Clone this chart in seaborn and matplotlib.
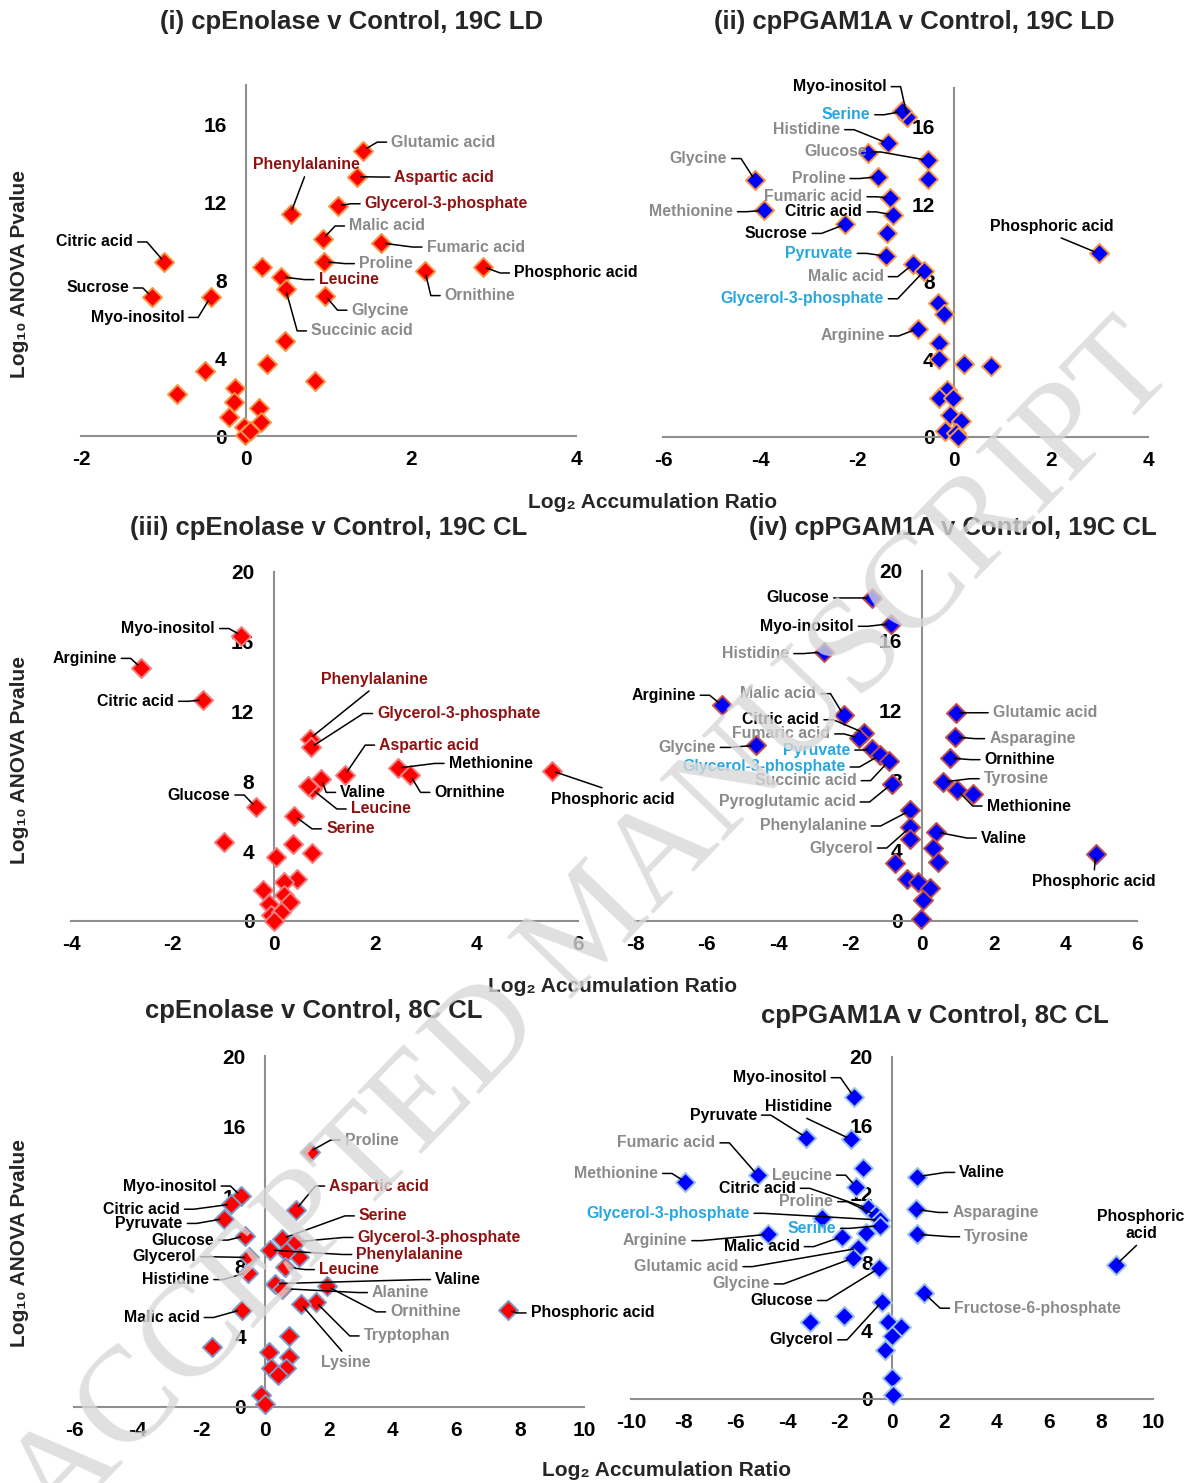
import matplotlib
matplotlib.use("Agg")
import matplotlib.pyplot as plt
import seaborn as sns
import pandas as pd

sns.set_theme(style="white")
plt.rcParams["font.family"] = ["Liberation Sans", "DejaVu Sans"]
plt.rcParams["font.weight"] = "bold"
plt.rcParams["axes.unicode_minus"] = False

# ---------------- data ----------------
# (i) cpEnolase v Control, 19C LD
names_1 = ["Glutamic acid", "Aspartic acid", "Glycerol-3-phosphate", "Phenylalanine",
           "Malic acid", "Fumaric acid", "Proline", "Ornithine", "Phosphoric acid",
           "Leucine", "", "Succinic acid", "Glycine", "Citric acid", "Sucrose",
           "Myo-inositol", "", "", "", "", "", "", "", "", "", "", "", "", ""]
ratio_1 = [1.42, 1.34, 1.11, 0.54, 0.93, 1.64, 0.95, 2.17, 2.87, 0.43, 0.19, 0.48, 0.96,
           -0.99, -1.14, -0.43, 0.47, 0.25, -0.50, 0.84, -0.84, -0.13, -0.15, -0.21,
           0.16, 0.18, -0.03, -0.01, 0.05]
pval_1 = [14.64, 13.3, 11.8, 11.4, 10.1, 9.9, 8.94, 8.46, 8.69, 8.16, 8.67, 7.54, 7.2,
          8.92, 7.13, 7.13, 4.86, 3.69, 3.31, 2.82, 2.17, 2.47, 1.72, 0.99, 1.42, 0.72,
          0.48, 0.05, 0.25]

# (ii) cpPGAM1A v Control, 19C LD
names_2 = ["Myo-inositol", "Serine", "Histidine", "Glucose", "", "Glycine", "Proline", "",
           "Fumaric acid", "Methionine", "Citric acid", "Sucrose", "", "Pyruvate",
           "Malic acid", "Glycerol-3-phosphate", "Phosphoric acid", "", "", "Arginine",
           "", "", "", "", "", "", "", "", "", "", "", ""]
ratio_2 = [-0.96, -1.07, -1.37, -0.54, -1.78, -4.10, -1.57, -0.54, -1.32, -3.92, -1.26,
           -2.24, -1.38, -1.41, -0.84, -0.62, 2.98, -0.33, -0.20, -0.75, -0.30, -0.30,
           0.21, 0.77, -0.14, -0.30, -0.03, -0.08, 0.14, -0.19, 0.04, 0.08]
pval_2 = [16.48, 16.79, 15.15, 14.27, 14.67, 13.23, 13.42, 13.33, 12.34, 11.69, 11.45,
          10.97, 10.53, 9.33, 8.92, 8.55, 9.47, 6.92, 6.32, 5.59, 4.85, 4.02, 3.76, 3.68,
          2.43, 2.0, 2.0, 1.15, 0.8, 0.32, 0.2, 0.0]

# (iii) cpEnolase v Control, 19C CL
names_3 = ["Myo-inositol", "Arginine", "Citric acid", "Phenylalanine", "Glycerol-3-phosphate",
           "Aspartic acid", "Methionine", "Ornithine", "Phosphoric acid", "Valine",
           "Leucine", "Glucose", "Serine", "", "", "", "", "", "", "", "", "", "", "",
           "", "", ""]
ratio_3 = [-0.64, -2.62, -1.39, 0.71, 0.73, 1.40, 2.44, 2.69, 5.48, 0.94, 0.75, -0.35,
           0.40, -0.98, 0.37, 0.75, 0.05, 0.45, 0.21, -0.22, 0.21, -0.10, 0.32, -0.06,
           0.15, 0.0, 0.68]
pval_3 = [16.36, 14.51, 12.67, 10.45, 9.95, 8.36, 8.76, 8.36, 8.61, 8.13, 7.56, 6.51,
          6.04, 4.51, 4.42, 3.9, 3.66, 2.42, 2.23, 1.75, 1.47, 0.99, 1.09, 0.32, 0.51,
          0.0, 7.75]

# (iv) cpPGAM1A v Control, 19C CL
names_4 = ["Glucose", "Myo-inositol", "Histidine", "Arginine", "Malic acid", "Citric acid",
           "Fumaric acid", "Glycine", "Pyruvate", "Glycerol-3-phosphate", "Succinic acid",
           "Pyroglutamic acid", "Phenylalanine", "Glycerol", "", "", "", "", "", "", "",
           "Glutamic acid", "Asparagine", "Ornithine", "Tyrosine", "Methionine", "",
           "Valine", "", "", "Phosphoric acid"]
ratio_4 = [-1.39, -0.86, -2.74, -5.57, -2.18, -1.61, -1.74, -4.63, -1.39, -1.17, -0.93,
           -0.83, -0.32, -0.32, -0.32, -0.76, -0.41, -0.12, 0.23, 0.03, -0.02, 0.94, 0.92,
           0.79, 0.59, 0.99, 1.43, 0.39, 0.31, 0.44, 4.85]
pval_4 = [18.46, 16.99, 15.37, 12.32, 11.75, 10.75, 10.45, 10.04, 9.85, 9.47, 9.12, 7.85,
          6.32, 5.37, 4.70, 3.31, 2.38, 2.23, 1.89, 1.18, 0.1, 11.9, 10.51, 9.31, 7.94,
          7.47, 7.28, 5.09, 4.17, 3.37, 3.85]

# cpEnolase v Control, 8C CL
names_5 = ["Proline", "Myo-inositol", "Citric acid", "Pyruvate", "Aspartic acid", "Glucose",
           "Glycerol", "Histidine", "Malic acid", "", "Serine", "Glycerol-3-phosphate",
           "Phenylalanine", "", "", "Leucine", "Valine", "Alanine", "Ornithine",
           "Tryptophan", "Lysine", "Phosphoric acid", "", "", "", "", "", "", "", ""]
ratio_5 = [1.39, -0.77, -1.06, -1.28, 0.95, -0.64, -0.51, -0.55, -0.74, -1.66, 0.54, 0.95,
           0.15, 1.05, 0.66, 0.63, 0.32, 0.51, 1.94, 1.58, 1.11, 7.60, 0.73, 0.13, 0.73,
           0.18, 0.66, 0.41, -0.14, 0.0]
pval_5 = [14.54, 12.03, 11.56, 10.74, 11.22, 9.75, 8.52, 7.66, 5.55, 3.42, 9.60, 9.41,
          8.94, 8.56, 8.84, 7.98, 7.03, 6.75, 6.88, 5.99, 5.89, 5.51, 4.03, 3.14, 2.85,
          2.24, 2.24, 1.81, 0.67, 0.15]

# cpPGAM1A v Control, 8C CL
names_6 = ["Myo-inositol", "Pyruvate", "Histidine", "Fumaric acid", "Methionine", "",
           "Leucine", "Citric acid", "Proline", "Glycerol-3-phosphate", "", "Serine",
           "Arginine", "Malic acid", "", "Glutamic acid", "Glycine", "Glucose", "Glycerol",
           "", "", "", "", "", "", "", "", "Valine", "Asparagine", "Tyrosine",
           "Fructose-6-phosphate", "Phosphoric acid"]
ratio_6 = [-1.46, -3.28, -1.58, -5.15, -7.92, -1.12, -1.38, -0.92, -0.62, -0.46, -2.69,
           -0.46, -4.77, -1.92, -1.0, -1.31, -1.51, -0.49, -0.38, -3.15, -1.85, -0.15,
           0.35, 0.0, -0.26, 0.0, 0.03, 0.97, 0.91, 0.95, 1.23, 8.58]
pval_6 = [17.67, 15.29, 15.19, 13.09, 12.7, 13.52, 12.41, 11.15, 10.76, 10.47, 10.56,
          10.14, 9.63, 9.49, 9.69, 8.81, 8.23, 7.65, 5.70, 4.53, 4.86, 4.53, 4.2, 3.66,
          2.88, 1.23, 0.25, 13.0, 11.09, 9.63, 6.19, 7.84]

# label colour groups (everything else is black)
darkred_1 = ["Phenylalanine", "Aspartic acid", "Glycerol-3-phosphate", "Leucine"]
gray_1 = ["Glutamic acid", "Malic acid", "Fumaric acid", "Proline", "Ornithine",
          "Glycine", "Succinic acid"]
blue_2 = ["Serine", "Pyruvate", "Glycerol-3-phosphate"]
gray_2 = ["Histidine", "Glucose", "Glycine", "Proline", "Fumaric acid", "Methionine",
          "Malic acid", "Arginine"]
darkred_3 = ["Phenylalanine", "Glycerol-3-phosphate", "Aspartic acid", "Leucine", "Serine"]
blue_4 = ["Pyruvate", "Glycerol-3-phosphate"]
gray_4 = ["Histidine", "Malic acid", "Fumaric acid", "Glycine", "Succinic acid",
          "Pyroglutamic acid", "Phenylalanine", "Glycerol", "Glutamic acid", "Asparagine",
          "Tyrosine"]
darkred_5 = ["Aspartic acid", "Serine", "Glycerol-3-phosphate", "Phenylalanine", "Leucine"]
gray_5 = ["Proline", "Alanine", "Ornithine", "Tryptophan", "Lysine"]
blue_6 = ["Glycerol-3-phosphate", "Serine"]
gray_6 = ["Fumaric acid", "Methionine", "Leucine", "Proline", "Arginine", "Glutamic acid",
          "Glycine", "Asparagine", "Tyrosine", "Fructose-6-phosphate"]

# ---------------- label placement (data coords, side of the leader) ----------------
lab_1 = {"Glutamic acid": (1.76, 15.07, "R"), "Phenylalanine": (0.73, 13.91, "B"),
         "Aspartic acid": (1.80, 13.28, "R"), "Glycerol-3-phosphate": (1.44, 11.91, "R"),
         "Malic acid": (1.25, 10.77, "R"), "Fumaric acid": (2.19, 9.69, "R"),
         "Proline": (1.37, 8.84, "R"), "Leucine": (0.88, 8.02, "R"),
         "Phosphoric acid": (3.25, 8.36, "R"), "Ornithine": (2.41, 7.20, "R"),
         "Glycine": (1.28, 6.45, "R"), "Succinic acid": (0.79, 5.39, "R"),
         "Citric acid": (-1.37, 9.95, "L"), "Sucrose": (-1.42, 7.59, "L"),
         "Myo-inositol": (-0.75, 6.08, "L")}
lab_2 = {"Myo-inositol": (-1.39, 18.07, "L"), "Serine": (-1.73, 16.62, "L"),
         "Histidine": (-2.35, 15.85, "L"), "Glucose": (-1.80, 14.70, "L"),
         "Glycine": (-4.68, 14.36, "L"), "Proline": (-2.24, 13.33, "L"),
         "Fumaric acid": (-1.89, 12.39, "L"), "Methionine": (-4.56, 11.62, "L"),
         "Citric acid": (-1.89, 11.61, "L"), "Sucrose": (-3.02, 10.50, "L"),
         "Pyruvate": (-2.09, 9.47, "L"), "Malic acid": (-1.45, 8.27, "L"),
         "Glycerol-3-phosphate": (-1.45, 7.13, "L"), "Arginine": (-1.43, 5.21, "L"),
         "Phosphoric acid": (2.02, 10.85, "B")}
lab_3 = {"Myo-inositol": (-1.16, 16.76, "L"), "Arginine": (-3.10, 15.05, "L"),
         "Citric acid": (-1.97, 12.59, "L"), "Phenylalanine": (1.98, 13.85, "B"),
         "Glycerol-3-phosphate": (2.04, 11.89, "R"), "Aspartic acid": (2.08, 10.08, "R"),
         "Methionine": (3.45, 9.03, "R"), "Ornithine": (3.17, 7.37, "R"),
         "Phosphoric acid": (6.69, 6.99, "T"), "Valine": (1.31, 7.37, "R"),
         "Leucine": (1.52, 6.42, "R"), "Glucose": (-0.86, 7.22, "L"),
         "Serine": (1.03, 5.28, "R")}
lab_4 = {"Glucose": (-2.59, 18.46, "L"), "Myo-inositol": (-1.90, 16.84, "L"),
         "Histidine": (-3.70, 15.28, "L"), "Arginine": (-6.31, 12.90, "L"),
         "Malic acid": (-2.94, 12.99, "L"), "Citric acid": (-2.86, 11.50, "L"),
         "Fumaric acid": (-2.56, 10.69, "L"), "Glycine": (-5.75, 9.92, "L"),
         "Pyruvate": (-2.00, 9.77, "L"), "Glycerol-3-phosphate": (-2.13, 8.80, "L"),
         "Succinic acid": (-1.82, 8.02, "L"), "Pyroglutamic acid": (-1.85, 6.80, "L"),
         "Phenylalanine": (-1.54, 5.43, "L"), "Glycerol": (-1.37, 4.17, "L"),
         "Glutamic acid": (1.98, 11.90, "R"), "Asparagine": (1.88, 10.42, "R"),
         "Ornithine": (1.75, 9.22, "R"), "Tyrosine": (1.73, 8.13, "R"),
         "Methionine": (1.81, 6.57, "R"), "Valine": (1.65, 4.74, "R"),
         "Phosphoric acid": (4.80, 2.23, "T")}
lab_5 = {"Proline": (2.49, 15.21, "R"), "Myo-inositol": (-1.53, 12.59, "L"),
         "Citric acid": (-2.68, 11.27, "L"), "Pyruvate": (-2.59, 10.46, "L"),
         "Aspartic acid": (2.01, 12.59, "R"), "Glucose": (-1.61, 9.51, "L"),
         "Glycerol": (-2.17, 8.56, "L"), "Histidine": (-1.76, 7.26, "L"),
         "Malic acid": (-2.06, 5.10, "L"), "Serine": (2.94, 10.89, "R"),
         "Glycerol-3-phosphate": (2.90, 9.66, "R"), "Phenylalanine": (2.86, 8.69, "R"),
         "Leucine": (1.69, 7.83, "R"), "Valine": (5.33, 7.26, "R"),
         "Alanine": (3.35, 6.52, "R"), "Ornithine": (3.92, 5.42, "R"),
         "Tryptophan": (3.09, 4.05, "R"), "Lysine": (2.52, 2.51, "T"),
         "Phosphoric acid": (8.33, 5.36, "R")}
lab_6 = {"Myo-inositol": (-2.51, 18.79, "L"), "Pyruvate": (-5.18, 16.60, "L"),
         "Histidine": (-3.58, 17.08, "B"), "Fumaric acid": (-6.77, 14.98, "L"),
         "Methionine": (-8.97, 13.19, "L"), "Leucine": (-2.31, 13.09, "L"),
         "Citric acid": (-3.69, 12.32, "L"), "Proline": (-2.26, 11.54, "L"),
         "Glycerol-3-phosphate": (-5.46, 10.86, "L"), "Serine": (-2.15, 9.98, "L"),
         "Arginine": (-7.85, 9.26, "L"), "Malic acid": (-3.54, 8.91, "L"),
         "Glutamic acid": (-5.89, 7.74, "L"), "Glycine": (-4.69, 6.73, "L"),
         "Glucose": (-3.03, 5.76, "L"), "Glycerol": (-2.26, 3.46, "L"),
         "Valine": (2.58, 13.25, "R"), "Asparagine": (2.31, 10.91, "R"),
         "Tyrosine": (2.77, 9.49, "R"), "Fructose-6-phosphate": (2.38, 5.31, "R"),
         "Phosphoric acid": (9.54, 10.18, "B")}

W, H = 1190, 1483
DARK, GRAY, BLUE = "#8e1111", "#8a8a8a", "#27a6df"
AXC = "#8f8f8f"

fig = plt.figure(figsize=(W / 100, H / 100), dpi=100)


def panel(px, names, xs, ys, labels, colors, xlim, ylim, xt, yt, face, edge,
          split_phos=False):
    x0, x1, top, bot = px
    ax = fig.add_axes([x0 / W, 1 - bot / H, (x1 - x0) / W, (bot - top) / H])
    ax.set_facecolor("none")
    df = pd.DataFrame({"name": names, "ratio": xs, "pval": ys})
    sns.scatterplot(data=df, x="ratio", y="pval", ax=ax, marker="D", s=95,
                    color=face, edgecolor=edge, linewidth=1.4, zorder=3,
                    clip_on=False, legend=False)
    ax.set_xlim(xlim)
    ax.set_ylim(ylim)
    ax.set_xticks(xt)
    ax.set_yticks(yt)
    ax.set_xticklabels([str(v) for v in xt])
    ax.set_yticklabels([str(v) for v in yt])
    ax.set_xlabel("")
    ax.set_ylabel("")
    for s in ["top", "right"]:
        ax.spines[s].set_visible(False)
    ax.spines["left"].set_position(("data", 0))
    for s in ["left", "bottom"]:
        ax.spines[s].set_color(AXC)
        ax.spines[s].set_linewidth(1.5)
    ax.tick_params(axis="x", direction="out", length=5, width=1.3, color=AXC,
                   pad=5, labelsize=15, labelcolor="black")
    ax.tick_params(axis="y", direction="out", length=5, width=1.3, color=AXC,
                   pad=9, labelsize=15, labelcolor="black")
    for lab in ax.get_xticklabels() + ax.get_yticklabels():
        lab.set_fontweight("bold")

    for name, (tx, ty, side) in labels.items():
        row = df[df["name"] == name].iloc[0]
        col = colors.get(name, "black")
        if side == "L":
            ha, rel, cs = "right", (1, 0.5), "arc,angleA=0,armA=14,angleB=0,armB=0,rad=0"
        elif side == "R":
            ha, rel, cs = "left", (0, 0.5), "arc,angleA=180,armA=14,angleB=0,armB=0,rad=0"
        elif side == "B":
            ha, rel, cs = "center", (0.5, 0), "arc3"
        else:
            ha, rel, cs = "center", (0.5, 1), "arc3"
        txt = name
        if split_phos and name == "Phosphoric acid":
            txt = "Phosphoric\nacid"
        ax.annotate(txt, xy=(row["ratio"], row["pval"]), xytext=(tx, ty),
                    ha=ha, va="center", fontsize=11.4, fontweight="bold", color=col,
                    multialignment="center", annotation_clip=False, zorder=5,
                    arrowprops=dict(arrowstyle="-", color="black", lw=1.1,
                                    shrinkA=1, shrinkB=3, relpos=rel,
                                    connectionstyle=cs))
    return ax


def groups(**kw):
    out = {}
    for col, lst in kw.items():
        for n in lst:
            out[n] = {"dark": DARK, "gray": GRAY, "blue": BLUE}[col]
    return out


y16 = [0, 4, 8, 12, 16]
y20 = [0, 4, 8, 12, 16, 20]
panel((81, 576, 85, 436), names_1, ratio_1, pval_1, lab_1,
      groups(dark=darkred_1, gray=gray_1), (-2, 4), (0, 18), [-2, 0, 2, 4], y16,
      "#ff0000", "#f79646")
panel((663, 1148, 88, 437), names_2, ratio_2, pval_2, lab_2,
      groups(blue=blue_2, gray=gray_2), (-6, 4), (0, 18), [-6, -4, -2, 0, 2, 4], y16,
      "#0000ff", "#f79646")
panel((71, 578, 572, 921), names_3, ratio_3, pval_3, lab_3,
      groups(dark=darkred_3), (-4, 6), (0, 20), [-4, -2, 0, 2, 4, 6], y20,
      "#ff0000", "#f08080")
panel((635, 1137, 571, 921), names_4, ratio_4, pval_4, lab_4,
      groups(blue=blue_4, gray=gray_4), (-8, 6), (0, 20), list(range(-8, 7, 2)), y20,
      "#0000ff", "#c0504d")
panel((74, 584, 1056, 1407), names_5, ratio_5, pval_5, lab_5,
      groups(dark=darkred_5, gray=gray_5), (-6, 10), (0, 20), list(range(-6, 11, 2)), y20,
      "#ff0000", "#7f9ac8")
panel((631, 1153, 1057, 1399), names_6, ratio_6, pval_6, lab_6,
      groups(blue=blue_6, gray=gray_6), (-10, 10), (0, 20), list(range(-10, 11, 2)), y20,
      "#0000ff", "#9dc3e6", split_phos=True)

titles = [("(i) cpEnolase v Control, 19C LD", 352, 22),
          ("(ii) cpPGAM1A v Control, 19C LD", 914, 22),
          ("(iii) cpEnolase v Control, 19C CL", 329, 528),
          ("(iv) cpPGAM1A v Control, 19C CL", 953, 528),
          ("cpEnolase v Control, 8C CL", 314, 1011),
          ("cpPGAM1A v Control, 8C CL", 935, 1016)]
for t, x, y in titles:
    fig.text(x / W, 1 - y / H, t, ha="center", va="center", fontsize=18.5,
             fontweight="bold")

for x, y in [(653, 502), (613, 987), (667, 1471)]:
    fig.text(x / W, 1 - y / H, "Log\u2082 Accumulation Ratio", ha="center",
             va="center", fontsize=15, fontweight="bold")
for y in [274, 760, 1243]:
    fig.text(20 / W, 1 - y / H, "Log\u2081\u2080 ANOVA Pvalue", ha="center",
             va="center", rotation=90, fontsize=15, fontweight="bold")

# watermark
fig.text(594 / W, 1 - 928 / H, "ACCEPTED MANUSCRIPT", ha="center", va="center",
         rotation=46, fontsize=98, family="Liberation Serif", fontweight="normal",
         color="#d8d8d8", alpha=0.8, zorder=20)

fig.savefig("out.png", dpi=100)
